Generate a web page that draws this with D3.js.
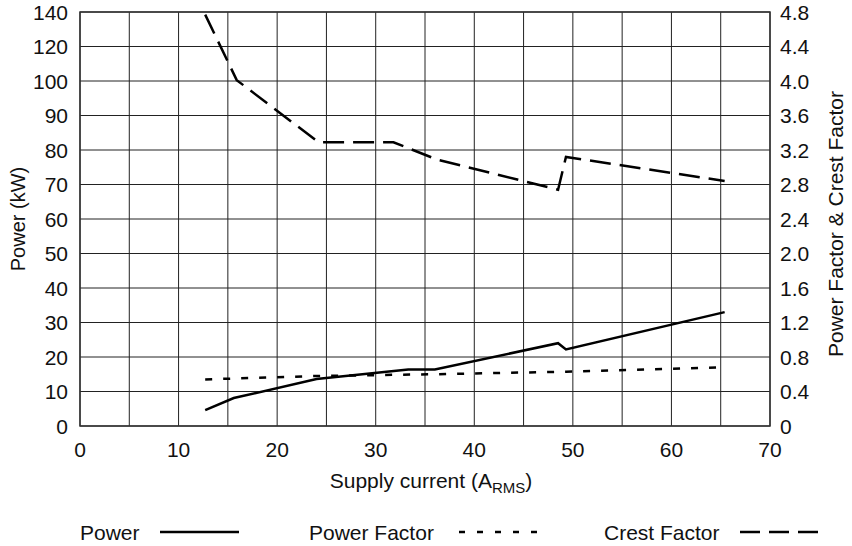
<!DOCTYPE html>
<html>
<head>
<meta charset="utf-8">
<script src="https://cdn.jsdelivr.net/npm/d3@7"></script>
<style>
  body { margin: 0; background: #fff; }
  svg text { font-family: "Liberation Sans", Arial, sans-serif; fill: #111; }
</style>
</head>
<body>
<svg id="chart" width="852" height="546"></svg>
<script>
// values
const powerCurrent = [12.7, 15.6, 24.0, 33.3, 36.0, 48.5, 49.3, 65.4];
const powerKW = [4.6, 8.1, 13.6, 16.4, 16.4, 24.0, 22.2, 33.0];

const pfCurrent = [12.7, 24.0, 36.0, 49.3, 65.4];
const powerFactor = [0.54, 0.58, 0.60, 0.63, 0.68];

const cfCurrent = [12.7, 15.9, 24.2, 31.8, 36.2, 48.5, 49.3, 65.4];
const crestFactor = [4.77, 4.01, 3.29, 3.29, 3.09, 2.74, 3.12, 2.84];

const xTicks = [0, 10, 20, 30, 40, 50, 60, 70];
const xGrid = d3.range(0, 71, 5);
const leftTicks = [0, 10, 20, 30, 40, 50, 60, 70, 80, 90, 100, 120, 140];
const rightTicks = [0, 0.4, 0.8, 1.2, 1.6, 2.0, 2.4, 2.8, 3.2, 3.6, 4.0, 4.4, 4.8];

const svg = d3.select("#chart");
const pLeft = 80, pRight = 770, pTop = 12, pBottom = 426;
const step = (pBottom - pTop) / 12;
const fs = 21;

const x = d3.scaleLinear().domain([0, 70]).range([pLeft, pRight]);
// left axis has 10 kW steps up to 100, then 20 kW steps
const yL = d3.scaleLinear().domain([0, 100, 140]).range([pBottom, pBottom - 10 * step, pTop]);
const yR = d3.scaleLinear().domain([0, 4.8]).range([pBottom, pTop]);

// grid
svg.append("g").selectAll("line").data(xGrid).join("line")
  .attr("x1", d => x(d)).attr("x2", d => x(d))
  .attr("y1", pTop).attr("y2", pBottom)
  .attr("stroke", "#222").attr("stroke-width", 1);
svg.append("g").selectAll("line").data(leftTicks).join("line")
  .attr("x1", pLeft).attr("x2", pRight)
  .attr("y1", d => yL(d)).attr("y2", d => yL(d))
  .attr("stroke", "#222").attr("stroke-width", 1);
svg.append("rect")
  .attr("x", pLeft).attr("y", pTop)
  .attr("width", pRight - pLeft).attr("height", pBottom - pTop)
  .attr("fill", "none").attr("stroke", "#333").attr("stroke-width", 1.5);

// tick labels
svg.append("g").selectAll("text").data(xTicks).join("text")
  .attr("x", d => x(d)).attr("y", 457)
  .attr("text-anchor", "middle").attr("font-size", fs)
  .text(d => d);
svg.append("g").selectAll("text").data(leftTicks).join("text")
  .attr("x", 68).attr("y", d => yL(d) + 7.5)
  .attr("text-anchor", "end").attr("font-size", fs)
  .text(d => d);
svg.append("g").selectAll("text").data(rightTicks).join("text")
  .attr("x", 780).attr("y", d => yR(d) + 7.5)
  .attr("font-size", fs)
  .text(d => d === 0 ? "0" : d.toFixed(1));

// axis titles
const xt = svg.append("text")
  .attr("x", 431).attr("y", 488)
  .attr("text-anchor", "middle").attr("font-size", fs);
xt.append("tspan").text("Supply current (A");
xt.append("tspan").attr("font-size", 15).attr("dy", 5).text("RMS");
xt.append("tspan").attr("dy", -5).text(")");

svg.append("text")
  .attr("transform", "translate(25," + (pTop + pBottom) / 2 + ") rotate(-90)")
  .attr("text-anchor", "middle").attr("font-size", 20)
  .text("Power (kW)");
svg.append("text")
  .attr("transform", "translate(843,224) rotate(-90)")
  .attr("text-anchor", "middle").attr("font-size", fs)
  .text("Power Factor & Crest Factor");

// series
const series = [
  { xs: powerCurrent, ys: powerKW, y: yL, dash: null },
  { xs: pfCurrent, ys: powerFactor, y: yR, dash: "7,11" },
  { xs: cfCurrent, ys: crestFactor, y: yR, dash: "21,9" }
];
series.forEach(s => {
  const line = d3.line().x((d, i) => x(s.xs[i])).y(d => s.y(d));
  svg.append("path")
    .attr("d", line(s.ys))
    .attr("fill", "none").attr("stroke", "#000")
    .attr("stroke-width", 2.5)
    .attr("stroke-dasharray", s.dash);
});

// legend
const legend = [
  { name: "Power", tx: 80, lx: 160, dash: null },
  { name: "Power Factor", tx: 309, lx: 459, dash: "6,12" },
  { name: "Crest Factor", tx: 604, lx: 740, dash: "20,9" }
];
legend.forEach(l => {
  svg.append("text").attr("x", l.tx).attr("y", 540)
    .attr("font-size", fs).text(l.name);
  svg.append("line")
    .attr("x1", l.lx).attr("x2", l.lx + 79)
    .attr("y1", 532).attr("y2", 532)
    .attr("stroke", "#000").attr("stroke-width", 2.5)
    .attr("stroke-dasharray", l.dash);
});
</script>
</body>
</html>
